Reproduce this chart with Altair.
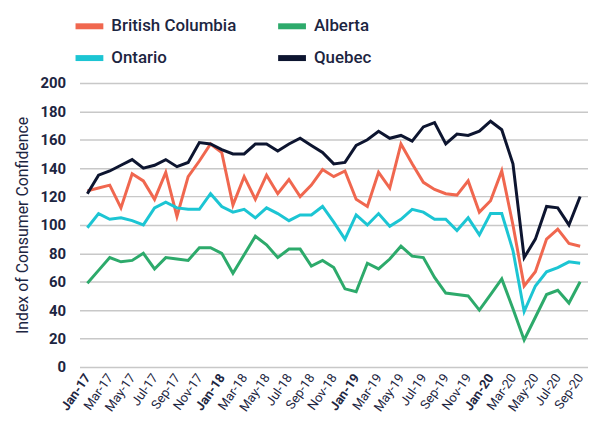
import altair as alt
import pandas as pd

months = [
    "Jan-17", "Feb-17", "Mar-17", "Apr-17", "May-17", "Jun-17", "Jul-17", "Aug-17", "Sep-17", "Oct-17", "Nov-17", "Dec-17",
    "Jan-18", "Feb-18", "Mar-18", "Apr-18", "May-18", "Jun-18", "Jul-18", "Aug-18", "Sep-18", "Oct-18", "Nov-18", "Dec-18",
    "Jan-19", "Feb-19", "Mar-19", "Apr-19", "May-19", "Jun-19", "Jul-19", "Aug-19", "Sep-19", "Oct-19", "Nov-19", "Dec-19",
    "Jan-20", "Feb-20", "Mar-20", "Apr-20", "May-20", "Jun-20", "Jul-20", "Aug-20", "Sep-20",
]

british_columbia = [124, 126, 128, 112, 136, 131, 118, 137, 106, 134, 145, 157,
                    151, 114, 134, 118, 135, 122, 132, 120, 128, 139, 134, 138,
                    118, 113, 137, 126, 157, 143, 130, 125, 122, 121, 131, 109,
                    117, 138, 100, 57, 67, 90, 97, 87, 85]
alberta = [59, 68, 77, 74, 75, 80, 69, 77, 76, 75, 84, 84,
           80, 66, 79, 92, 86, 77, 83, 83, 71, 75, 70, 55,
           53, 73, 69, 76, 85, 78, 77, 63, 52, 51, 50, 40,
           51, 62, 41, 19, 35, 51, 54, 45, 60]
ontario = [98, 108, 104, 105, 103, 100, 112, 116, 112, 111, 111, 122,
           113, 109, 111, 105, 112, 108, 103, 107, 107, 113, 102, 90,
           107, 100, 108, 99, 104, 111, 109, 104, 104, 96, 105, 93,
           108, 108, 82, 39, 57, 67, 70, 74, 73]
quebec = [122, 135, 138, 142, 146, 140, 142, 146, 141, 144, 158, 157,
          153, 150, 150, 157, 157, 152, 157, 161, 156, 151, 143, 144,
          156, 160, 166, 161, 163, 159, 169, 172, 157, 164, 163, 166,
          173, 167, 143, 77, 90, 113, 112, 100, 120]

series_names = ["British Columbia", "Alberta", "Ontario", "Quebec"]
series_colors = ["#F0674F", "#2DAA6B", "#1CC5D3", "#0D1530"]
y_ticks = list(range(0, 201, 20))

df = pd.DataFrame({
    "Month": months,
    "British Columbia": british_columbia,
    "Alberta": alberta,
    "Ontario": ontario,
    "Quebec": quebec,
})
long = df.melt(id_vars="Month", var_name="Province", value_name="Index")

text_color = "#1C2541"
font = "Roboto"

chart = alt.Chart(long).mark_line(strokeWidth=3).encode(
    x=alt.X(
        "Month:O",
        sort=months,
        scale=alt.Scale(padding=0.7),
        axis=alt.Axis(
            values=months[::2],
            labelAngle=-55,
            title=None,
            domain=False,
            ticks=False,
            grid=False,
            labelFontSize=13,
            labelColor=text_color,
            labelPadding=8,
            labelFontWeight={"condition": {"test": "indexof(datum.label, 'Jan') == 0", "value": "bold"}, "value": "normal"},
        ),
    ),
    y=alt.Y(
        "Index:Q",
        scale=alt.Scale(domain=[0, 200]),
        axis=alt.Axis(
            values=y_ticks,
            title="Index of Consumer Confidence",
            titleFontSize=16,
            titleFontWeight="normal",
            titleColor=text_color,
            titlePadding=10,
            domain=False,
            ticks=False,
            labelFontSize=15,
            labelFontWeight="bold",
            labelColor=text_color,
            labelPadding=14,
            gridColor="#C8C8C8",
            gridWidth=1.5,
        ),
    ),
    color=alt.Color(
        "Province:N",
        scale=alt.Scale(domain=series_names, range=series_colors),
        legend=alt.Legend(
            title=None,
            orient="none",
            legendX=-7,
            legendY=-74,
            columns=2,
            direction="horizontal",
            symbolType="stroke",
            symbolStrokeWidth=6,
            symbolSize=784,
            labelFontSize=17,
            labelFontWeight=500,
            labelColor=text_color,
            labelOffset=5,
            columnPadding=30,
            rowPadding=3,
        ),
    ),
    order=alt.Order("Province:N"),
).properties(
    width=512,
    height=286,
    padding={"left": 6, "top": 0, "right": 0, "bottom": 5},
).configure(
    font=font,
).configure_view(
    stroke=None,
)

chart.save("out.html", embed_options={"renderer": "svg", "actions": False})
